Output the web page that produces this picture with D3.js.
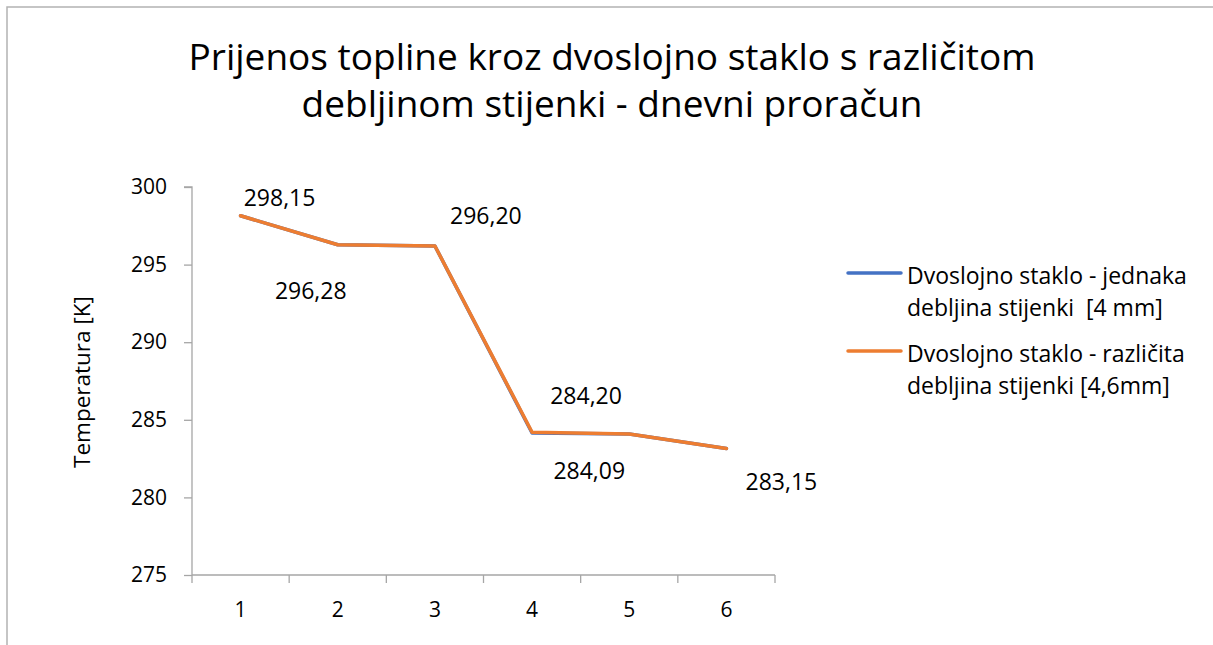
<!DOCTYPE html>
<html>
<head>
<meta charset="utf-8">
<script src="https://cdn.jsdelivr.net/npm/d3@7.9.0/dist/d3.min.js"></script>
<style>
  body { margin: 0; background: #fff; }
  svg { display: block; font-family: "Open Sans", "Noto Sans", sans-serif; }
</style>
</head>
<body>
<svg id="vis"></svg>
<script>
const width = 1213;
const height = 645;

// --- data ---
const categories = [1, 2, 3, 4, 5, 6];
const equalWalls = [298.15, 296.28, 296.20, 284.15, 284.09, 283.15];
const differentWalls = [298.15, 296.28, 296.20, 284.20, 284.09, 283.15];
const pointLabels = ["298,15", "296,28", "296,20", "284,20", "284,09", "283,15"];
const yTicks = [275, 280, 285, 290, 295, 300];
const seriesNames = [
    ["Dvoslojno staklo - jednaka", "debljina stijenki  [4 mm]"],
    ["Dvoslojno staklo - različita", "debljina stijenki [4,6mm]"]
];
const titleLines = [
    "Prijenos topline kroz dvoslojno staklo s različitom",
    "debljinom stijenki - dnevni proračun"
];
const colors = ["#4472C4", "#ED7D31"];

// label placement (pixel nudges from each point, as placed in the original)
const labelNudge = [[39, -19], [-27, 45], [51, -31], [54, -37], [-40, 36], [55, 32]];

const plot = { left: 192, right: 775, top: 187, bottom: 575 };

const vis = d3.select("#vis")
    .attr("width", width)
    .attr("height", height);

// chart border
vis.append("rect")
    .attr("x", 7).attr("y", 7)
    .attr("width", width + 20).attr("height", height + 20)
    .attr("fill", "none")
    .attr("stroke", "#b3b3b3")
    .attr("stroke-width", 1.5);

// title
vis.append("text")
    .attr("text-anchor", "middle")
    .attr("font-size", 37)
    .attr("fill", "#000")
    .selectAll("tspan")
    .data(titleLines)
    .join("tspan")
    .attr("x", 612)
    .attr("y", (d, i) => 70 + i * 47)
    .text(d => d);

const x = d3.scaleBand()
    .domain(categories)
    .range([plot.left, plot.right]);

const y = d3.scaleLinear()
    .domain([275, 300])
    .range([plot.bottom, plot.top]);

// y axis
const yAxis = vis.append("g")
    .attr("transform", `translate(${plot.left},0)`)
    .call(d3.axisLeft(y).tickValues(yTicks).tickSize(8).tickPadding(17));
yAxis.select(".domain").attr("stroke", "#a6a6a6").attr("stroke-width", 1.3)
    .attr("d", `M-8,${plot.top}H0V${plot.bottom}`);
yAxis.selectAll(".tick line").attr("stroke", "#a6a6a6").attr("stroke-width", 1.3);
yAxis.selectAll(".tick text")
    .attr("font-size", 21)
    .attr("font-family", "Open Sans")
    .attr("fill", "#000");

// x axis with ticks at band boundaries
const xAxis = vis.append("g")
    .attr("transform", `translate(0,${plot.bottom})`)
    .call(d3.axisBottom(x).tickSize(0).tickPadding(27));
xAxis.select(".domain").attr("stroke", "#a6a6a6").attr("stroke-width", 1.3)
    .attr("d", `M${plot.left},0H${plot.right}`);
xAxis.selectAll(".tick text")
    .attr("font-size", 21)
    .attr("font-family", "Open Sans")
    .attr("fill", "#000");
xAxis.selectAll(".boundary")
    .data(categories.concat([null]))
    .join("line")
    .attr("class", "boundary")
    .attr("x1", (d, i) => plot.left + i * x.bandwidth())
    .attr("x2", (d, i) => plot.left + i * x.bandwidth())
    .attr("y1", 0).attr("y2", 8)
    .attr("stroke", "#a6a6a6")
    .attr("stroke-width", 1.3);

// axis title
vis.append("text")
    .attr("transform", "translate(90,382) rotate(-90)")
    .attr("text-anchor", "middle")
    .attr("font-size", 22.5)
    .text("Temperatura [K]");

// lines
const line = d3.line()
    .x((d, i) => x(categories[i]) + x.bandwidth() / 2)
    .y(d => y(d));

[equalWalls, differentWalls].forEach((series, s) => {
    vis.append("path")
        .datum(series)
        .attr("fill", "none")
        .attr("stroke", colors[s])
        .attr("stroke-width", 3.5)
        .attr("stroke-linejoin", "round")
        .attr("stroke-linecap", "round")
        .attr("d", line);
});

// data labels
vis.append("g")
    .selectAll("text")
    .data(differentWalls)
    .join("text")
    .attr("x", (d, i) => x(categories[i]) + x.bandwidth() / 2 + labelNudge[i][0])
    .attr("y", (d, i) => y(d) + labelNudge[i][1])
    .attr("text-anchor", "middle")
    .attr("dominant-baseline", "central")
    .attr("font-size", 23)
    .text((d, i) => pointLabels[i]);

// legend
const legend = vis.append("g");
seriesNames.forEach((lines, s) => {
    const top = 275 + s * 78;
    legend.append("line")
        .attr("x1", 848).attr("x2", 901)
        .attr("y1", top - 2).attr("y2", top - 2)
        .attr("stroke", colors[s])
        .attr("stroke-width", 3.5)
        .attr("stroke-linecap", "round");
    legend.append("text")
        .attr("font-size", 23)
        .selectAll("tspan")
        .data(lines)
        .join("tspan")
        .attr("x", 907)
        .attr("y", (d, i) => top + i * 32)
        .attr("dominant-baseline", "central")
        .attr("xml:space", "preserve")
        .text(d => d);
});
</script>
</body>
</html>
